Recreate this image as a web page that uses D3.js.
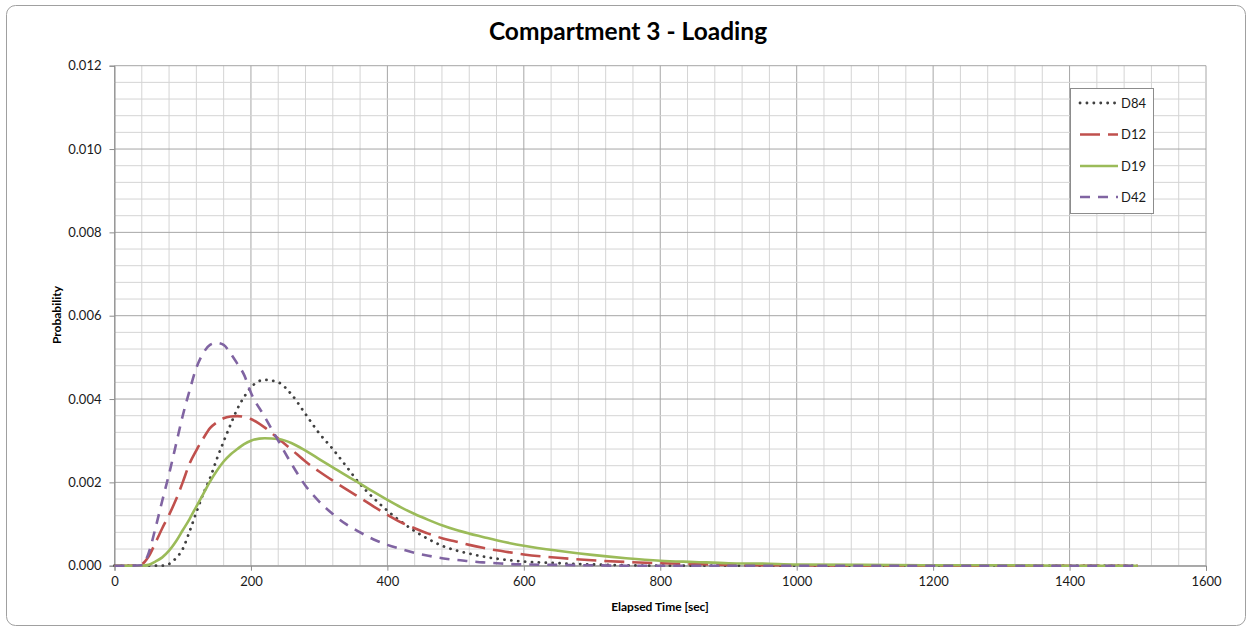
<!DOCTYPE html>
<html>

<head>
    <meta charset="utf-8">
    <style>
        body {
            margin: 0;
            background: white;
        }

        svg {
            display: block;
            font-family: Lato, 'Open Sans', sans-serif;
        }
    </style>
</head>

<body>
    <svg width="1249" height="628"></svg>
</body>

<script src="https://d3js.org/d3.v7.min.js"></script>

<script>
    // elapsed time (sec) shared by all series
    let times = [0, 20, 40, 50, 60, 70, 80, 90, 100, 110,
        120, 130, 140, 150, 160, 170, 180, 190, 200,
        220, 240, 260, 280, 300, 320, 340, 360, 380, 400, 420, 440, 460, 480, 500, 520, 540, 560, 580, 600,
        650, 700, 750, 800, 850, 900, 950, 1000,
        1100, 1200, 1300, 1400, 1500]

    let d84 = [0, 0, 0, 0, 0, 0, 0.00004, 0.00018, 0.0004, 0.00082,
        0.00128, 0.00172, 0.0021, 0.00256, 0.00298, 0.00338, 0.00376, 0.00405, 0.00428,
        0.00446, 0.0044, 0.0041, 0.00364, 0.00318, 0.0028, 0.00238, 0.00196, 0.00162, 0.00132, 0.00106, 0.00083, 0.00064, 0.00048, 0.00037, 0.00029, 0.00022, 0.00017, 0.00013, 0.0001,
        0.00006, 0.00003, 0.00001, 0, 0, 0, 0, 0,
        0, 0, 0, 0, 0]

    let d12 = [0, 0, 0.00004, 0.00022, 0.00055, 0.0009, 0.00122, 0.00158, 0.002, 0.00245,
        0.00277, 0.00305, 0.0033, 0.00344, 0.00354, 0.00358, 0.00359, 0.00357, 0.00352,
        0.00332, 0.00305, 0.00278, 0.0025, 0.00226, 0.00204, 0.00183, 0.00163, 0.00142, 0.00122, 0.00104, 0.0009, 0.00077, 0.00066, 0.00058, 0.0005, 0.00043, 0.00037, 0.00032, 0.00027,
        0.00019, 0.00013, 0.00009, 0.00006, 0.00004, 0.00002, 0.00001, 0.00001,
        0, 0, 0, 0, 0]

    let d19 = [0, 0, 0, 0.00002, 0.0001, 0.0002, 0.00036, 0.00058, 0.00085, 0.00112,
        0.00142, 0.00172, 0.00202, 0.00228, 0.0025, 0.00267, 0.0028, 0.00292, 0.003,
        0.00306, 0.00304, 0.00294, 0.00276, 0.00256, 0.00236, 0.00216, 0.00197, 0.00177, 0.00158, 0.0014, 0.00124, 0.0011, 0.00097, 0.00086, 0.00077, 0.00069, 0.00061, 0.00054, 0.00048,
        0.00036, 0.00026, 0.00018, 0.00012, 0.00009, 0.00006, 0.00005, 0.00003,
        0.00002, 0.00001, 0.00001, 0, 0]

    let d42 = [0, 0, 0.00001, 0.0003, 0.0009, 0.00156, 0.0022, 0.0029, 0.0036, 0.0042,
        0.00475, 0.0051, 0.0053, 0.00535, 0.0053, 0.0051, 0.00485, 0.00458, 0.00415,
        0.00358, 0.003, 0.00243, 0.00192, 0.00154, 0.00124, 0.00099, 0.0008, 0.00063, 0.0005, 0.0004, 0.00031, 0.00024, 0.00018, 0.00014, 0.00011, 0.00008, 0.00006, 0.00004, 0.00003,
        0.00002, 0.00001, 0, 0, 0, 0, 0, 0,
        0, 0, 0, 0, 0]

    let seriesNames = ["D84", "D12", "D19", "D42"]
    let seriesValues = [d84, d12, d19, d42]

    let xTicks = [0, 200, 400, 600, 800, 1000, 1200, 1400, 1600]
    let yTicks = [0, 0.002, 0.004, 0.006, 0.008, 0.010, 0.012]

    let styles = {
        D84: { color: "#404040", width: 2.8, dash: "0.1 6.8", cap: "round" },
        D12: { color: "#C0504D", width: 2.6, dash: "20 8", cap: "butt" },
        D19: { color: "#9BBB59", width: 2.6, dash: null, cap: "butt" },
        D42: { color: "#8064A2", width: 2.6, dash: "10 8", cap: "butt" }
    }

    let margin = { top: 65.7, right: 43, bottom: 62.3, left: 114.5 }
    let width = 1249
    let height = 628

    let svg = d3.select("svg")

    // outer chart border
    svg.append("rect")
        .attr("x", 6.5)
        .attr("y", 5.5)
        .attr("width", 1239)
        .attr("height", 620)
        .attr("rx", 9)
        .style("fill", "white")
        .style("stroke", "#a0a0a0")
        .style("stroke-width", 1)

    let x = d3.scaleLinear()
        .domain([0, 1600])
        .range([margin.left, width - margin.right])

    let y = d3.scaleLinear()
        .domain([0, 0.012])
        .range([height - margin.bottom, margin.top])

    // grid, minor every 40 sec / 0.0004
    let grid = svg.append("g").attr("class", "grid")
    grid.selectAll(".vgrid")
        .data(d3.range(0, 1601, 40))
        .join("line")
        .attr("x1", d => x(d)).attr("x2", d => x(d))
        .attr("y1", y(0)).attr("y2", y(0.012))
        .style("stroke", d => d % 200 == 0 ? "#a6a6a6" : "#d4d4d4")
        .style("stroke-width", 1)

    grid.selectAll(".hgrid")
        .data(d3.range(0, 31).map(i => i * 0.0004))
        .join("line")
        .attr("x1", x(0)).attr("x2", x(1600))
        .attr("y1", d => y(d)).attr("y2", d => y(d))
        .style("stroke", (d, i) => i % 5 == 0 ? "#a6a6a6" : "#d4d4d4")
        .style("stroke-width", 1)

    // axes
    svg.append("g")
        .attr("transform", `translate(0,${y(0)})`)
        .call(d3.axisBottom(x).tickValues(xTicks).tickSize(5).tickPadding(6).tickFormat(d3.format("d")))

    svg.append("g")
        .attr("transform", `translate(${x(0)},0)`)
        .call(d3.axisLeft(y).tickValues(yTicks).tickSize(5).tickPadding(8).tickFormat(d3.format(".3f")))

    svg.selectAll(".domain").style("stroke", "#8c8c8c")
    svg.selectAll(".tick line").style("stroke", "#8c8c8c")
    svg.selectAll(".tick text")
        .style("font-family", "Lato, sans-serif")
        .style("font-size", "13px")
        .style("fill", "#1a1a1a")

    // lines
    let line = d3.line()
        .x(d => x(d[0]))
        .y(d => y(d[1]))
        .curve(d3.curveMonotoneX)

    seriesNames.forEach((name, i) => {
        let pts = times.map((t, j) => [t, seriesValues[i][j]])
        let s = styles[name]
        svg.append("path")
            .datum(pts)
            .attr("d", line)
            .style("fill", "none")
            .style("stroke", s.color)
            .style("stroke-width", s.width)
            .style("stroke-dasharray", s.dash)
            .style("stroke-linecap", s.cap)
    })

    // legend
    let legend = svg.append("g")
    legend.append("rect")
        .attr("x", 1070.5)
        .attr("y", 88.5)
        .attr("width", 83)
        .attr("height", 125)
        .style("fill", "white")
        .style("stroke", "#8c8c8c")

    let ly = [103, 134.5, 166, 197]
    seriesNames.forEach((name, i) => {
        let s = styles[name]
        legend.append("line")
            .attr("x1", 1080).attr("x2", 1118)
            .attr("y1", ly[i]).attr("y2", ly[i])
            .style("stroke", s.color)
            .style("stroke-width", s.width)
            .style("stroke-dasharray", s.dash)
            .style("stroke-linecap", s.cap)
        legend.append("text")
            .attr("x", 1121)
            .attr("y", ly[i] + 4.5)
            .text(name)
            .style("font-size", "13px")
            .style("fill", "#1a1a1a")
    })

    // titles
    svg.append("text")
        .attr("x", 628)
        .attr("y", 40)
        .attr("text-anchor", "middle")
        .style("font-size", "24.5px")
        .style("font-weight", "bold")
        .text("Compartment 3 - Loading")

    svg.append("text")
        .attr("x", 660)
        .attr("y", 611)
        .attr("text-anchor", "middle")
        .style("font-size", "12px")
        .style("font-weight", "bold")
        .text("Elapsed Time [sec]")

    svg.append("text")
        .attr("transform", "translate(61,315) rotate(-90)")
        .attr("text-anchor", "middle")
        .style("font-size", "12px")
        .style("font-weight", "bold")
        .text("Probability")
</script>

</html>
